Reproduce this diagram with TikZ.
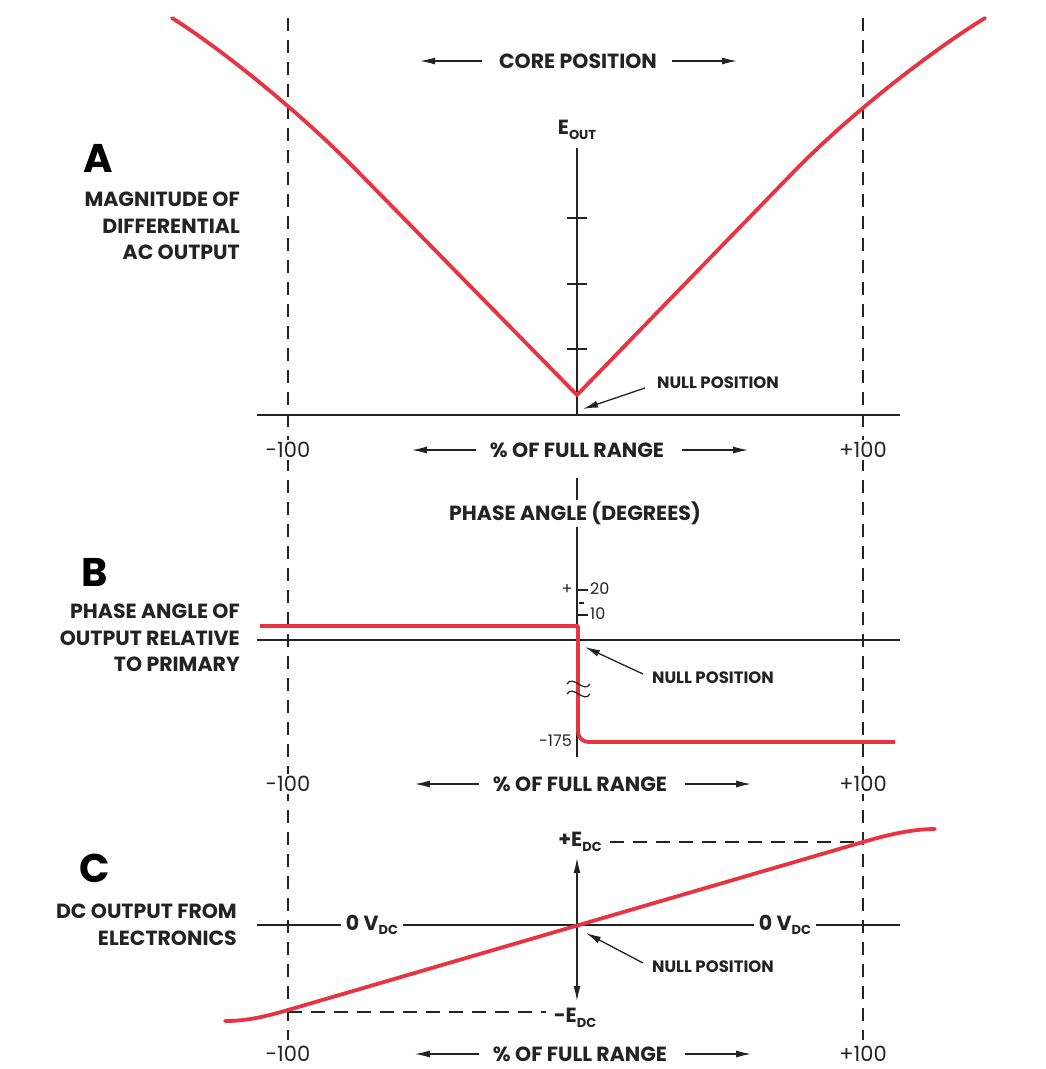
\documentclass[tikz,border=0pt]{standalone}
\usepackage{fontspec}
\setmainfont{Poppins}
\usetikzlibrary{arrows.meta,calc}
\definecolor{curve}{RGB}{232,52,64}
\definecolor{ink}{RGB}{35,35,35}
\newcommand{\lowsub}[1]{\raisebox{-0.4ex}{\fontsize{13}{14}\selectfont #1}}
\tikzset{
  axis/.style={ink, line width=1.3pt},
  guide/.style={ink, line width=1.3pt, dash pattern=on 13pt off 9pt},
  signal/.style={curve, line width=3.8pt, line cap=round, line join=round},
  lbl/.style={font=\fontsize{20.5}{24}\selectfont\bfseries, text=ink, inner sep=2pt},
  note/.style={font=\fontsize{16.5}{20}\selectfont\bfseries, text=ink, inner sep=0pt, anchor=west},
  num/.style={font=\fontsize{21}{24}\selectfont, text=ink, fill=white, inner sep=2pt},
  small/.style={font=\fontsize{16}{18}\selectfont, text=ink, inner sep=1pt},
  panel/.style={font=\fontsize{40}{42}\selectfont\bfseries, text=black},
  side/.style={font=\fontsize{20.5}{26.5}\selectfont\bfseries, text=ink, align=right, anchor=east, inner sep=0pt},
  ptr/.style={ink, line width=1.3pt, -{Latex[length=15pt,width=7pt]}},
  dbl/.style={ink, line width=1.3pt, {Latex[length=15pt,width=7pt]}-{Latex[length=15pt,width=7pt]}},
}
\begin{document}
\begin{tikzpicture}[x=1pt,y=-1pt]
\useasboundingbox (0,0) rectangle (1045,1069);

% travel limits of the core
\draw[guide] (288,18) -- (288,1040);
\draw[guide] (863,18) -- (863,1040);

% ---------------- panel A ----------------
\node[panel] (A) at (98,158) {A};
\node[side] (Atxt) at (240,226) {MAGNITUDE OF\\DIFFERENTIAL\\AC OUTPUT};
\node[lbl] (core) at (578,61) {CORE POSITION};
\coordinate (coreL) at (420,61);
\coordinate (coreR) at (737,61);
\draw[ptr] (core.west) ++(-15,0) -- (coreL);
\draw[ptr] (core.east) ++(13,0) -- (coreR);

\node[lbl] (eout) at (577,130) {E\lowsub{OUT}};
\draw[axis] (577,148) -- (577,415);
\foreach \t in {218,284,349} \draw[axis] (567,\t) -- (587,\t);
\draw[axis] (257,415) -- (900,415);

\coordinate (nullA) at (577,395);
\draw[signal] (172,18) .. controls (220,48) and (300,112) .. (360,173.7) -- (nullA)
  -- (794,171.5) .. controls (854,110) and (936,48) .. (985,18);

\node[note] (nA) at (657,383) {NULL POSITION};
\coordinate (nAtip) at (583,409);
\draw[ptr] (645,388) -- (nAtip);

\node[num] (mA) at (288,450) {-100};
\node[num] (pA) at (863,450) {+100};
\node[lbl] (rA) at (577,450) {\% OF FULL RANGE};
\draw[ptr] (rA.west) ++(-12,0) -- ++(-64,0);
\draw[ptr] (rA.east) ++(16,0) -- ++(66,0);

% ---------------- panel B ----------------
\node[panel] (B) at (95,572) {B};
\node[side] (Btxt) at (240,638) {PHASE ANGLE OF\\OUTPUT RELATIVE\\TO PRIMARY};
\draw[axis] (577,478) -- (577,757);
\node[lbl, fill=white] (pa) at (575,513) {PHASE ANGLE (DEGREES)};
\draw[axis] (257,640) -- (900,640);
\draw[axis] (577,590) -- (588,590);
\draw[axis] (579,603) -- (584,603);
\draw[axis] (577,615) -- (588,615);
\node[small, anchor=west] (d20) at (589,589) {20};
\node[small, anchor=west] (d10) at (589,614) {10};
\node[small] (plus) at (567,590) {+};
\node[small, anchor=east] (d175) at (573,741) {-175};

\draw[signal, line cap=butt] (260,626) -- (578,626) -- (578,730)
  .. controls (578,738) and (582,742) .. (590,742) -- (895,742);
% scale break on the jump
\draw[ink, line width=1.2pt] (567,684) .. controls (573,674) and (584,694) .. (590,684);
\draw[ink, line width=1.2pt] (567,694) .. controls (573,684) and (584,704) .. (590,694);

\node[note] (nB) at (652,678) {NULL POSITION};
\coordinate (nBtip) at (585,647);
\draw[ptr] (643,674) -- (nBtip);

\node[num] (mB) at (288,784) {-100};
\node[num] (pB) at (863,784) {+100};
\node[lbl] (rB) at (580,784) {\% OF FULL RANGE};
\draw[ptr] (rB.west) ++(-12,0) -- ++(-64,0);
\draw[ptr] (rB.east) ++(16,0) -- ++(66,0);

% ---------------- panel C ----------------
\node[panel] (C) at (95,868) {C};
\node[side] (Ctxt) at (237,925) {DC OUTPUT FROM\\ELECTRONICS};
\draw[axis] (257,925) -- (900,925);
\node[lbl, fill=white, inner sep=5pt] (zl) at (372,925) {0 V\lowsub{DC}};
\node[lbl, fill=white, inner sep=5pt] (zr) at (785,925) {0 V\lowsub{DC}};

\node[lbl] (pE) at (580,842) {+E\lowsub{DC}};
\node[lbl] (mE) at (575,1018) {-E\lowsub{DC}};
\draw[dbl] (577,858) -- (577,1001);
\draw[guide, dash pattern=on 14pt off 9pt] (pE.east) ++(6,0) -- (863,842);
\draw[guide, dash pattern=on 14pt off 9pt] (288,1012) -- ($(mE.west)+(-6,-6)$);

\draw[signal] (225,1021) .. controls (245,1021) and (263,1017.3) .. (288,1010)
  -- (863,842) .. controls (888,834.7) and (912,829) .. (935,829);

\node[note] (nC) at (652,967) {NULL POSITION};
\coordinate (nCtip) at (586,933);
\draw[ptr] (643,963) -- (nCtip);

\node[num, inner sep=0pt] (mC) at (288,1054) {-100};
\node[num, inner sep=0pt] (pC) at (863,1054) {+100};
\node[lbl, inner sep=0pt] (rC) at (580,1054) {\% OF FULL RANGE};
\draw[ptr] (rC.west) ++(-14,0) -- ++(-64,0);
\draw[ptr] (rC.east) ++(18,0) -- ++(66,0);
\end{tikzpicture}
\end{document}
